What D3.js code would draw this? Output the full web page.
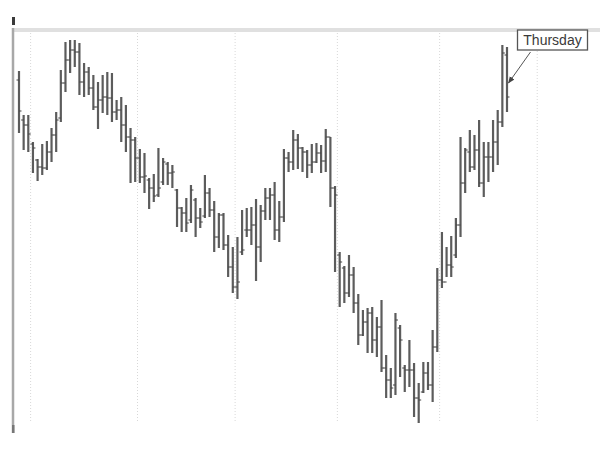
<!DOCTYPE html>
<html><head><meta charset="utf-8">
<script src="https://cdn.jsdelivr.net/npm/d3@7/dist/d3.min.js"></script>
<style>html,body{margin:0;padding:0;background:#fff;}svg{display:block;}</style>
</head><body>
<script>
const highs = [369,325,325,298,281,296,299,312,328,370,398,400,400,397,377,373,365,358,365,368,367,340,343,335,
312,303,291,287,262,266,292,282,278,275,251,233,242,255,242,232,265,252,239,227,227,205,193,203,230,232,233,
241,235,252,252,258,239,291,288,310,306,293,290,296,297,295,311,303,254,188,174,185,173,146,130,132,133,123,140,
85,72,127,115,75,100,77,57,78,78,110,172,208,193,204,222,303,292,310,305,320,298,298,320,330,395,393];
const lows = [307,290,288,267,259,265,270,278,288,318,348,367,373,345,343,345,330,311,327,325,318,320,298,288,
257,258,257,247,231,238,243,255,255,252,213,208,208,217,203,212,222,223,188,192,190,163,147,141,185,203,195,
159,178,220,220,200,198,218,268,270,271,268,262,267,277,267,268,233,168,133,137,143,127,95,104,87,87,83,68,
42,42,45,63,48,53,23,17,47,50,38,88,152,163,163,182,203,247,268,270,253,243,258,268,275,313,328];
const opens = [360,320,315,296,280,273,272,288,305,322,357,380,390,388,358,368,352,333,340,343,342,328,330,315,
303,300,282,263,260,252,245,258,276,267,250,232,227,220,240,222,224,247,230,203,225,195,173,153,188,210,210,
215,193,229,242,245,210,223,282,278,300,292,288,275,278,287,279,303,252,185,172,147,165,137,105,118,127,100,113,
72,60,55,112,72,70,70,42,48,67,55,93,160,158,175,185,215,257,288,273,290,257,283,283,298,318,385];
const closes = [329,315,306,292,273,272,288,305,320,357,380,390,388,358,368,352,333,340,343,342,328,330,315,303,
300,282,263,264,252,244,252,278,267,268,232,227,217,250,222,218,247,230,203,225,195,173,153,158,190,210,215,
193,229,242,245,210,223,282,278,300,292,288,275,278,287,279,303,252,245,178,147,165,137,105,118,127,100,113,72,
60,52,120,100,70,70,42,40,67,55,93,160,158,175,173,215,257,290,273,290,257,283,283,298,318,387,343];
const monthTicks = [2.5, 25.5, 46.5, 68.5, 90.5, 111.5];
const noteLabel = "Thursday";
const noteIndex = 105;
const noteValue = 357;

const W = 609, H = 455;
const svg = d3.select("body").append("svg").attr("width", W).attr("height", H);

const x = d3.scaleLinear().domain([0, highs.length - 1]).range([19, 507]);
const y = d3.scaleLinear().domain([0, 400]).range([440, 40]);

// gridlines
svg.append("g").selectAll("line").data(monthTicks).join("line")
  .attr("x1", d => x(d)).attr("x2", d => x(d))
  .attr("y1", 33).attr("y2", 422)
  .attr("stroke", "#d8d8d8").attr("stroke-width", 1)
  .attr("stroke-dasharray", "1,2");

// top band
svg.append("rect").attr("x", 14).attr("y", 28).attr("width", 586).attr("height", 4).attr("fill", "#e0e0e0");

// left axis
const yAxis = d3.axisLeft(y).ticks(0).tickSize(0);
const ga = svg.append("g").attr("transform", "translate(13,0)").call(yAxis);
ga.select(".domain").remove();
svg.append("line").attr("x1", 13).attr("x2", 13).attr("y1", 28).attr("y2", 433)
  .attr("stroke", "#a8a8a8").attr("stroke-width", 2.5);
svg.append("rect").attr("x", 12).attr("y", 17).attr("width", 3).attr("height", 8).attr("fill", "#3a3a3a");
svg.append("rect").attr("x", 12).attr("y", 425).attr("width", 2.5).attr("height", 8).attr("fill", "#777");

// OHLC bars
const data = highs.map((h, i) => ({i, h, l: lows[i], o: opens[i], c: closes[i]}));
const g = svg.append("g");
g.selectAll("line.hl").data(data).join("line").attr("class", "hl")
  .attr("x1", d => x(d.i)).attr("x2", d => x(d.i))
  .attr("y1", d => y(d.h)).attr("y2", d => y(d.l))
  .attr("stroke", "#5c5c5c").attr("stroke-width", 2.2);
g.selectAll("line.op").data(data).join("line").attr("class", "op")
  .attr("x1", d => x(d.i) - 2.5).attr("x2", d => x(d.i))
  .attr("y1", d => y(d.o)).attr("y2", d => y(d.o))
  .attr("stroke", "#444").attr("stroke-width", 1);
g.selectAll("line.cl").data(data).join("line").attr("class", "cl")
  .attr("x1", d => x(d.i)).attr("x2", d => x(d.i) + 2.5)
  .attr("y1", d => y(d.c)).attr("y2", d => y(d.c))
  .attr("stroke", "#444").attr("stroke-width", 1);

// annotation
const tipX = x(noteIndex) + 1.5, tipY = y(noteValue);
const defs = svg.append("defs");
defs.append("marker").attr("id", "arr").attr("viewBox", "0 0 10 10")
  .attr("refX", 9).attr("refY", 5).attr("markerWidth", 7).attr("markerHeight", 7)
  .attr("orient", "auto")
  .append("path").attr("d", "M0,1 L10,5 L0,9 Z").attr("fill", "#444");
svg.append("line").attr("x1", tipX + 22).attr("y1", tipY - 31)
  .attr("x2", tipX).attr("y2", tipY)
  .attr("stroke", "#555").attr("stroke-width", 1).attr("marker-end", "url(#arr)");
const bx = tipX + 9, by = tipY - 53;
svg.append("rect").attr("x", bx).attr("y", by).attr("width", 70).attr("height", 20)
  .attr("fill", "#fff").attr("stroke", "#555").attr("stroke-width", 1.3);
svg.append("text").attr("x", bx + 35).attr("y", by + 15).attr("text-anchor", "middle")
  .attr("font-family", "Liberation Sans, Arial, sans-serif").attr("font-size", 14)
  .attr("fill", "#3a3a3a").text(noteLabel);
</script>
</body></html>
